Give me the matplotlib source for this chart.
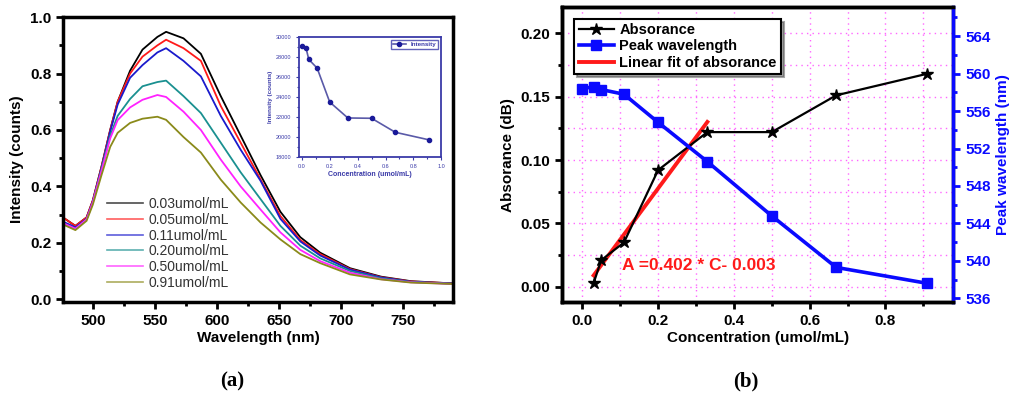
import matplotlib
matplotlib.use("Agg")
import matplotlib.pyplot as plt
from matplotlib.ticker import MultipleLocator

plt.rcParams["font.family"] = ["Liberation Sans", "DejaVu Sans"]

# ---- panel (a): emission spectra ----
wavelength = [476, 486, 495, 500, 507, 514, 520, 530, 540, 552, 559, 573,
              587, 603, 619, 635, 651, 667, 683, 707, 732, 756, 790]
spectra = {
    "0.03umol/mL": [0.29, 0.26, 0.29, 0.35, 0.47, 0.60, 0.70, 0.81, 0.885, 0.93, 0.948, 0.925,
                    0.87, 0.72, 0.58, 0.44, 0.31, 0.22, 0.165, 0.11, 0.08, 0.064, 0.056],
    "0.05umol/mL": [0.29, 0.26, 0.29, 0.35, 0.47, 0.60, 0.70, 0.80, 0.86, 0.90, 0.92, 0.89,
                    0.845, 0.685, 0.555, 0.425, 0.295, 0.21, 0.16, 0.107, 0.078, 0.063, 0.056],
    "0.11umol/mL": [0.275, 0.255, 0.285, 0.345, 0.465, 0.595, 0.69, 0.785, 0.83, 0.875, 0.89, 0.845,
                    0.79, 0.65, 0.53, 0.42, 0.285, 0.205, 0.155, 0.105, 0.077, 0.062, 0.055],
    "0.20umol/mL": [0.27, 0.25, 0.283, 0.343, 0.46, 0.58, 0.65, 0.71, 0.755, 0.77, 0.775, 0.72,
                    0.66, 0.555, 0.45, 0.355, 0.26, 0.19, 0.145, 0.10, 0.074, 0.061, 0.055],
    "0.50umol/mL": [0.27, 0.25, 0.283, 0.343, 0.455, 0.57, 0.635, 0.68, 0.707, 0.724, 0.717, 0.665,
                    0.60, 0.495, 0.40, 0.318, 0.237, 0.175, 0.135, 0.094, 0.071, 0.06, 0.054],
    "0.91umol/mL": [0.265, 0.245, 0.278, 0.335, 0.44, 0.54, 0.59, 0.625, 0.64, 0.647, 0.636, 0.575,
                    0.52, 0.424, 0.343, 0.272, 0.212, 0.16, 0.128, 0.088, 0.07, 0.059, 0.054],
}
spec_colors = ["black", "#ff1a1a", "#1a1acc", "#1a9090", "#ff22ff", "#8a8a1a"]

# inset: peak intensity vs concentration
inset_conc = [0.0, 0.03, 0.05, 0.11, 0.2, 0.33, 0.5, 0.67, 0.91]
inset_int = [29050, 28880, 27730, 26860, 23470, 21880, 21850, 20450, 19700]

# ---- panel (b): absorbance and peak wavelength ----
abs_conc = [0.03, 0.05, 0.11, 0.2, 0.33, 0.5, 0.67, 0.91]
absorbance = [0.003, 0.021, 0.035, 0.092, 0.122, 0.122, 0.151, 0.168]
peak_conc = [0.0, 0.03, 0.05, 0.11, 0.2, 0.33, 0.5, 0.67, 0.91]
peak_wl = [558.4, 558.6, 558.3, 557.8, 554.8, 550.6, 544.8, 539.3, 537.6]
fit_conc = [0.03, 0.33]
fit_abs = [0.009, 0.130]

fig = plt.figure(figsize=(10.24, 3.99), dpi=100)

bold = {"fontweight": "bold"}

# ---------- (a) ----------
ax1 = fig.add_axes([0.0615, 0.243, 0.381, 0.714])
for (lab, vals), c in zip(spectra.items(), spec_colors):
    ax1.plot(wavelength, vals, color=c, lw=1.3, label=lab)
ax1.set_xlim(476, 790)
ax1.set_ylim(-0.01, 1.0)
ax1.xaxis.set_major_locator(MultipleLocator(50))
ax1.xaxis.set_minor_locator(MultipleLocator(25))
ax1.yaxis.set_major_locator(MultipleLocator(0.2))
ax1.yaxis.set_minor_locator(MultipleLocator(0.1))
ax1.tick_params(which="both", direction="out", width=2, top=False, right=False)
ax1.tick_params(which="major", length=5, labelsize=11)
ax1.tick_params(which="minor", length=3)
for lbl in ax1.get_xticklabels() + ax1.get_yticklabels():
    lbl.set_fontweight("bold")
for s in ax1.spines.values():
    s.set_linewidth(2.5)
ax1.set_xlabel("Wavelength (nm)", fontsize=11, labelpad=2, **bold)
ax1.set_ylabel("Intensity (counts)", fontsize=11, labelpad=4, **bold)
leg1 = ax1.legend(loc="lower left", bbox_to_anchor=(0.08, 0.0), frameon=False,
                  fontsize=10, handlelength=2.6, labelspacing=0.12, handletextpad=0.4)
for ln in leg1.get_lines():
    ln.set_alpha(0.7)
    ln.set_linewidth(1.2)
for t in leg1.get_texts():
    t.set_color("#333333")

# inset
navy = "#3a3aa8"
axi = fig.add_axes([0.292, 0.607, 0.139, 0.301])
axi.plot(inset_conc, inset_int, color="#5a5aa8", lw=1.2, marker="o", ms=3,
         mfc="#1a1a99", mec="#1a1a99", label="Intensity")
axi.set_xlim(-0.02, 1.0)
axi.set_ylim(18000, 30000)
axi.xaxis.set_major_locator(MultipleLocator(0.2))
axi.yaxis.set_major_locator(MultipleLocator(2000))
axi.yaxis.set_minor_locator(MultipleLocator(1000))
axi.xaxis.set_minor_locator(MultipleLocator(0.1))
axi.tick_params(which="both", direction="out", colors=navy, labelsize=4, length=2, width=0.8)
axi.tick_params(which="minor", length=1.2)
for s in axi.spines.values():
    s.set_color(navy)
    s.set_linewidth(1.3)
axi.set_xlabel("Concentration (umol/mL)", fontsize=5, color=navy, labelpad=1, **bold)
axi.set_ylabel("Intensity (counts)", fontsize=4.5, color=navy, labelpad=2, **bold)
legi = axi.legend(loc="upper right", fontsize=4.5, frameon=True, fancybox=False,
                  edgecolor=navy, handlelength=2, borderpad=0.3)
for t in legi.get_texts():
    t.set_color(navy)
    t.set_fontweight("bold")

# ---------- (b) ----------
ax2 = fig.add_axes([0.549, 0.243, 0.382, 0.739])
ax2.set_axisbelow(True)
ax2.grid(True, which="both", color="#ff66ff", linestyle=(0, (1, 3)), lw=1.0)
l_abs, = ax2.plot(abs_conc, absorbance, color="black", lw=1.6, marker="*", ms=9,
                  label="Absorance", zorder=4)
l_fit, = ax2.plot(fit_conc, fit_abs, color="#ff1a1a", lw=2.8, label="Linear fit of absorance",
                  zorder=3)
ax2.set_xlim(-0.053, 0.979)
ax2.set_ylim(-0.012, 0.2205)
ax2.xaxis.set_major_locator(MultipleLocator(0.2))
ax2.xaxis.set_minor_locator(MultipleLocator(0.1))
ax2.yaxis.set_major_locator(MultipleLocator(0.05))
ax2.yaxis.set_minor_locator(MultipleLocator(0.025))
ax2.yaxis.set_major_formatter(plt.FormatStrFormatter("%.2f"))
ax2.tick_params(which="both", direction="out", width=2, top=False, right=False)
ax2.tick_params(which="major", length=5, labelsize=11)
ax2.tick_params(which="minor", length=3)
for lbl in ax2.get_xticklabels() + ax2.get_yticklabels():
    lbl.set_fontweight("bold")
for s in ax2.spines.values():
    s.set_linewidth(2.5)
ax2.set_xlabel("Concentration (umol/mL)", fontsize=11, labelpad=2, **bold)
ax2.set_ylabel("Absorance (dB)", fontsize=11, labelpad=4, **bold)
ax2.text(0.105, 0.0165, "A =0.402 * C- 0.003", color="#ff1a1a", fontsize=12.5,
         va="center", ha="left", **bold)

ax3 = ax2.twinx()
l_peak, = ax3.plot(peak_conc, peak_wl, color="#0a0aff", lw=2.6, marker="s", ms=7,
                   label="Peak wavelength", zorder=3)
ax3.set_ylim(535.6, 567.1)
ax3.yaxis.set_major_locator(MultipleLocator(4))
ax3.yaxis.set_minor_locator(MultipleLocator(2))
ax3.tick_params(which="both", direction="out", width=2, colors="#0a0aff", labelsize=11)
ax3.tick_params(which="major", length=5)
ax3.tick_params(which="minor", length=3)
for lbl in ax3.get_yticklabels():
    lbl.set_fontweight("bold")
for s in ax3.spines.values():
    s.set_linewidth(2.5)
ax3.spines["right"].set_color("#0a0aff")
ax3.set_ylabel("Peak wavelength (nm)", fontsize=11, color="#0a0aff", labelpad=4, **bold)

leg2 = ax3.legend(handles=[l_abs, l_peak, l_fit], loc="upper left",
                  bbox_to_anchor=(0.012, 0.985), fontsize=10.5, frameon=True,
                  fancybox=False, shadow=True, edgecolor="black", framealpha=1,
                  handlelength=2.4, labelspacing=0.15, borderpad=0.3, handletextpad=0.4)
leg2.get_frame().set_linewidth(1.5)
for t in leg2.get_texts():
    t.set_fontweight("bold")

# sub-figure labels
fig.text(0.227, 0.045, "(a)", fontsize=15, fontweight="bold", family="Liberation Serif",
         ha="center", va="center")
fig.text(0.728, 0.045, "(b)", fontsize=15, fontweight="bold", family="Liberation Serif",
         ha="center", va="center")

fig.savefig("out.png", dpi=100)
plt.close(fig)
